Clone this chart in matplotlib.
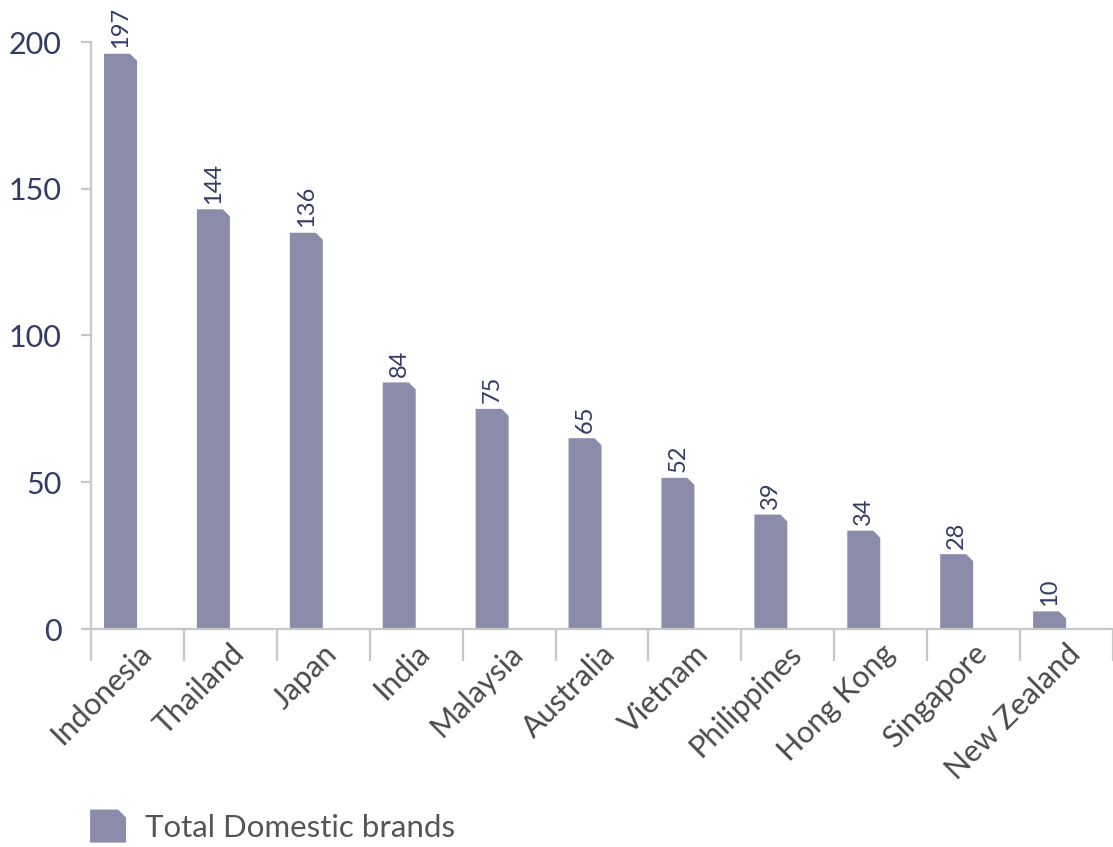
import matplotlib
matplotlib.use("Agg")
import matplotlib.pyplot as plt
from matplotlib.patches import Polygon
from matplotlib.legend_handler import HandlerPatch
from matplotlib.transforms import ScaledTranslation

plt.rcParams['font.family'] = ['Lato', 'DejaVu Sans']

countries = ['Indonesia', 'Thailand', 'Japan', 'India', 'Malaysia', 'Australia',
             'Vietnam', 'Philippines', 'Hong Kong', 'Singapore', 'New Zealand']
bar_heights = [196, 143, 135, 84, 75, 65, 51.5, 39, 33.5, 25.5, 6]
value_labels = ['197', '144', '136', '84', '75', '65', '52', '39', '34', '28', '10']
series_name = 'Total Domestic brands'

bar_color = '#8a8caa'
navy = '#353b68'
gray_text = '#4a4a4a'
axis_gray = '#c8c8c8'

fig = plt.figure(figsize=(11.13, 8.47), dpi=100)
ax = fig.add_axes([91 / 1113, 218 / 847, 1022 / 1113, (629 - 42) / 847])
ax.set_xlim(-0.5, len(countries) - 0.5)
ax.set_ylim(0, 200)

# chamfered bars (top-right corner cut)
cx = 0.075   # chamfer in category units
cy = 2.4     # chamfer in value units
for i, h in enumerate(bar_heights):
    x0 = i - 0.5 + 0.14
    x1 = i - 0.5 + 0.495
    c = min(cy, h)
    pts = [(x0, 0), (x0, h), (x1 - cx, h), (x1, h - c), (x1, 0)]
    ax.add_patch(Polygon(pts, closed=True, facecolor=bar_color, edgecolor='none'))
    ax.annotate(value_labels[i], xy=((x0 + x1) / 2, h), xytext=(0, 4),
                textcoords='offset points', rotation=90, ha='center', va='bottom',
                fontsize=17, color=navy, annotation_clip=False)

# axes styling
for s in ['top', 'right']:
    ax.spines[s].set_visible(False)
ax.spines['left'].set_color(axis_gray)
ax.spines['bottom'].set_color(axis_gray)
ax.spines['left'].set_linewidth(1.6)
ax.spines['bottom'].set_linewidth(1.6)
ax.spines['left'].set_bounds(0, 200)

ax.set_yticks([0, 50, 100, 150, 200])
ax.tick_params(axis='y', length=7, width=1.6, color=axis_gray, pad=14,
               labelsize=22, labelcolor=navy)

ax.set_xticks([i - 0.5 for i in range(len(countries) + 1)])
ax.set_xticklabels([])
ax.tick_params(axis='x', which='major', length=23, width=1.6, color=axis_gray)
ax.set_xticks(range(len(countries)), minor=True)
ax.set_xticklabels(countries, minor=True, rotation=45, ha='right', va='center',
                   rotation_mode='anchor', fontsize=22, color=gray_text)
ax.tick_params(axis='x', which='minor', length=0, pad=0)
off = ScaledTranslation(9 / 100, -20 / 100, fig.dpi_scale_trans)
for lab in ax.get_xticklabels(minor=True):
    lab.set_transform(lab.get_transform() + off)


# legend with chamfered swatch
class ChamferHandler(HandlerPatch):
    def create_artists(self, legend, orig_handle, xdescent, ydescent,
                       width, height, fontsize, trans):
        w, h = width, height
        c = w * 0.22
        pts = [(-xdescent, -ydescent), (-xdescent, h - ydescent),
               (w - c - xdescent, h - ydescent), (w - xdescent, h - c - ydescent),
               (w - xdescent, -ydescent)]
        p = Polygon(pts, closed=True, facecolor=bar_color, edgecolor='none',
                    transform=trans)
        return [p]


handle = Polygon([(0, 0), (1, 0), (1, 1)], facecolor=bar_color)
leg = fig.legend([handle], [series_name], loc='lower left',
                 bbox_to_anchor=(62 / 1113, -0.028), frameon=False, fontsize=22.5,
                 handler_map={Polygon: ChamferHandler()},
                 handlelength=1.15, handleheight=1.25, handletextpad=0.6)
for t in leg.get_texts():
    t.set_color('#555555')

fig.savefig('out.png', dpi=100)
